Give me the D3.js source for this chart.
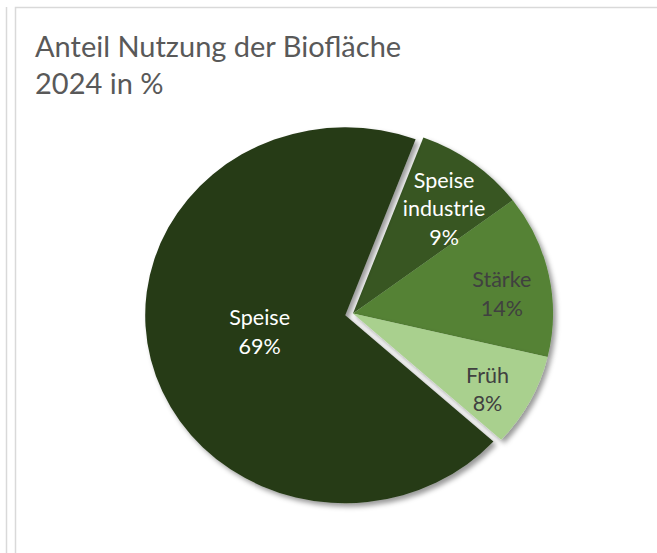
<!DOCTYPE html>
<html>
<head>
<meta charset="utf-8">
<script src="https://cdn.jsdelivr.net/npm/d3@7"></script>
<style>
  html, body { margin: 0; padding: 0; background: #fff; }
  svg { display: block; font-family: Lato, "Open Sans", sans-serif; }
</style>
</head>
<body>
<svg id="chart" width="657" height="553"></svg>
<script>
'use strict';

// Data
var categories = ['Speise industrie', 'Stärke', 'Früh', 'Speise'];
var values = [9, 14, 8, 69];
var labelLines = [['Speise', 'industrie'], ['Stärke'], ['Früh'], ['Speise']];
var colors = ['#375623', '#548235', '#a9d08e', '#263a18'];
var labelColors = ['#ffffff', '#404040', '#404040', '#ffffff'];

var titleLines = ['Anteil Nutzung der Biofläche', '2024 in %'];

var svg = d3.select('#chart');

// Frame lines
svg.append('line')
	.attr('x1', 6.5).attr('x2', 6.5).attr('y1', 7).attr('y2', 553)
	.attr('stroke', '#d9d9d9').attr('stroke-width', 1.5);
svg.append('path')
	.attr('d', 'M15.5,553 V7.5 H657')
	.attr('fill', 'none')
	.attr('stroke', '#d9d9d9').attr('stroke-width', 1.5);

// Title
svg.append('text')
	.attr('fill', '#595959')
	.style('font-size', '29px')
	.selectAll('tspan')
	.data(titleLines)
	.join('tspan')
	.attr('x', 35)
	.attr('y', function(d, i) { return 57 + i * 36.5; })
	.text(function(d) { return d; });

// Shadow filter
var defs = svg.append('defs');
defs.append('filter')
	.attr('id', 'shadow')
	.attr('x', '-20%').attr('y', '-20%')
	.attr('width', '140%').attr('height', '140%')
	.append('feDropShadow')
	.attr('dx', 3).attr('dy', 3.5)
	.attr('stdDeviation', 2.6)
	.attr('flood-color', '#000')
	.attr('flood-opacity', 0.4);

// Pie geometry
var cx = 353, cy = 313.5;
var radius = 188;
var stretchX = 1.064;
var explode = 7.5;
var rotation = 20.6 * Math.PI / 180;

var pie = d3.pie()
	.sort(null)
	.value(function(d) { return d; })
	.startAngle(rotation)
	.endAngle(rotation + 2 * Math.PI);

var arcs = pie(values);

var arc = d3.arc()
	.innerRadius(0)
	.outerRadius(radius);

function offsetFor(d, i) {
	if (values[i] < 50) return [0, 0];
	var mid = (d.startAngle + d.endAngle) / 2;
	return [Math.sin(mid) * explode, -Math.cos(mid) * explode];
}

var g = svg.append('g')
	.attr('transform', `translate(${cx}, ${cy}) scale(${stretchX}, 1)`);

g.selectAll('path.slice')
	.data(arcs)
	.join('path')
	.attr('class', 'slice')
	.attr('d', arc)
	.attr('fill', function(d, i) { return colors[i]; })
	.attr('filter', 'url(#shadow)')
	.attr('transform', function(d, i) {
		var o = offsetFor(d, i);
		return `translate(${o[0]}, ${o[1]})`;
	});

// Labels
var lineHeight = 28.5;
var labels = svg.append('g');
arcs.forEach(function(d, i) {
	var o = offsetFor(d, i);
	var mid = (d.startAngle + d.endAngle) / 2;
	var r = radius * 0.76;
	var shift = 10;
	if (values[i] > 50) {
		// big slice: best-fit puts the label nearer the middle
		r = radius * 0.44;
		shift = -2;
	}
	var x = cx + (o[0] + Math.sin(mid) * r) * stretchX;
	var y = cy + o[1] - Math.cos(mid) * r + shift;
	var lines = labelLines[i].concat([values[i] + '%']);
	var top = y - (lines.length - 1) * lineHeight / 2;
	var t = labels.append('text')
		.attr('text-anchor', 'middle')
		.attr('fill', labelColors[i])
		.style('font-size', '21.5px');
	t.selectAll('tspan')
		.data(lines)
		.join('tspan')
		.attr('x', x)
		.attr('y', function(l, j) { return top + j * lineHeight + 7; })
		.text(function(l) { return l; });
});
</script>
</body>
</html>
